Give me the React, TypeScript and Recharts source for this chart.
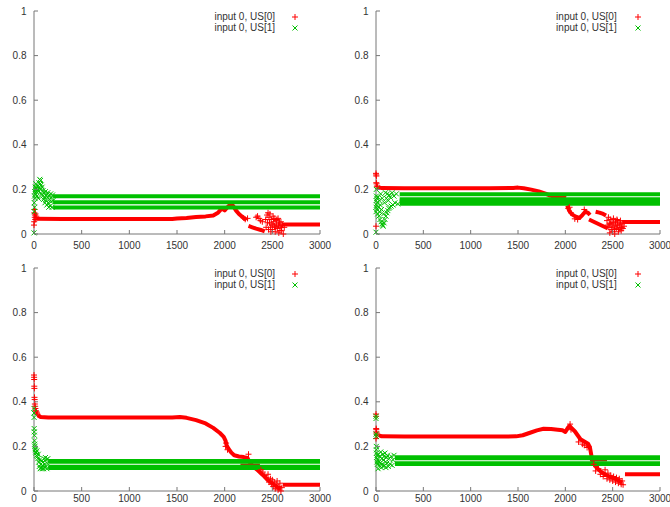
import React from 'react';
import { ComposedChart, Line, Scatter, XAxis, YAxis } from 'recharts';

type Pt = [number, number];

const xTicks = [0, 500, 1000, 1500, 2000, 2500, 3000];
const yTicks = [0, 0.2, 0.4, 0.6, 0.8, 1];
const seriesNames = ['input 0, US[0]', 'input 0, US[1]'];

// panel a (top left)
const aRedLine: Pt[] = [[25, 0.068], [300, 0.067], [800, 0.067], [1200, 0.067], [1450, 0.067], [1500, 0.069], [1600, 0.072], [1700, 0.076], [1800, 0.079], [1880, 0.083], [1930, 0.095], [1970, 0.115], [2000, 0.106], [2030, 0.12], [2060, 0.132], [2090, 0.125], [2120, 0.105], [2150, 0.09], [2190, 0.075], [2230, 0.063]];
const aRedLow: Pt[] = [[2250, 0.036], [2290, 0.03], [2330, 0.024], [2380, 0.018], [2420, 0.012]];
const aRedFlat: Pt[] = [[2600, 0.043], [3000, 0.043]];
const aRedDots: Pt[] = [[0, 0.04], [2, 0.055], [4, 0.095], [6, 0.11], [8, 0.075], [10, 0.085], [13, 0.065], [16, 0.09], [20, 0.072], [24, 0.08],
  [2200, 0.072], [2215, 0.066], [2240, 0.07], [2330, 0.075], [2345, 0.08], [2360, 0.07], [2375, 0.06], [2395, 0.055], [2430, 0.065], [2435, 0.03], [2445, 0.085], [2450, 0.05], [2455, 0.095], [2460, 0.02], [2465, 0.075], [2470, 0.05], [2475, 0.09], [2480, 0.03], [2485, 0.01], [2488, 0.065], [2495, 0.045], [2500, 0.02], [2505, 0.04], [2508, 0.08], [2515, 0.055], [2518, 0.07], [2522, 0.035], [2530, 0.01], [2535, 0.03], [2538, 0.06], [2545, 0.045], [2548, 0.065], [2552, 0.025], [2560, 0.07], [2565, 0.04], [2568, 0.005], [2575, 0.05], [2580, 0.015], [2582, 0.035], [2590, 0.055], [2595, 0.03], [2598, 0.015], [2605, 0.04], [2615, 0.0], [2625, 0.03]];
const aGreenLevels = [0.169, 0.142, 0.119];
const aGreenStart = 200;
const aGreenDots: Pt[] = [[0, 0.005], [2, 0.1], [3, 0.14], [5, 0.17], [6, 0.12], [8, 0.19], [10, 0.16], [12, 0.21], [15, 0.18], [18, 0.2], [20, 0.225], [25, 0.19], [28, 0.21], [32, 0.17], [35, 0.2], [40, 0.215], [45, 0.16], [48, 0.19], [52, 0.23], [56, 0.205], [60, 0.245], [64, 0.225], [68, 0.24], [72, 0.2], [76, 0.22], [80, 0.18], [85, 0.21], [90, 0.17], [95, 0.195], [100, 0.155], [105, 0.185], [110, 0.165], [115, 0.14], [120, 0.19], [125, 0.15], [130, 0.175], [135, 0.13], [140, 0.165], [145, 0.185], [150, 0.14], [155, 0.12], [160, 0.17], [165, 0.155], [170, 0.125], [175, 0.18], [180, 0.145], [185, 0.165], [190, 0.12], [195, 0.175], [200, 0.15]];

// panel b (top right)
const bRedLine: Pt[] = [[25, 0.21], [60, 0.206], [300, 0.205], [800, 0.205], [1200, 0.205], [1450, 0.206], [1500, 0.208], [1560, 0.205], [1640, 0.199], [1720, 0.191], [1790, 0.181], [1840, 0.172], [1880, 0.168], [1980, 0.168], [2000, 0.16]];
const bRedSeg1: Pt[] = [[2020, 0.128], [2040, 0.105], [2070, 0.088], [2110, 0.078], [2150, 0.072], [2180, 0.085], [2210, 0.1], [2240, 0.095], [2260, 0.085]];
const bRedSeg2: Pt[] = [[2250, 0.065], [2300, 0.055], [2350, 0.045], [2400, 0.035], [2450, 0.025]];
const bRedSeg3: Pt[] = [[2320, 0.1], [2360, 0.096], [2400, 0.09], [2430, 0.083]];
const bRedFlat: Pt[] = [[2600, 0.054], [3000, 0.054]];
const bRedDots: Pt[] = [[0, 0.272], [2, 0.265], [4, 0.26], [0, 0.035], [3, 0.23], [6, 0.225], [10, 0.215], [15, 0.212],
  [2030, 0.115], [2045, 0.12], [2060, 0.095], [2100, 0.068], [2130, 0.065], [2200, 0.11], [2440, 0.06], [2450, 0.04], [2455, 0.075], [2460, 0.03], [2465, 0.045], [2470, 0.005], [2475, 0.065], [2480, 0.045], [2485, 0.02], [2492, 0.05], [2495, 0.03], [2500, 0.01], [2505, 0.05], [2508, 0.07], [2515, 0.035], [2520, 0.02], [2522, 0.0], [2530, 0.055], [2535, 0.04], [2538, 0.025], [2545, 0.065], [2550, 0.06], [2552, 0.04], [2560, 0.01], [2565, 0.02], [2568, 0.05], [2575, 0.03], [2580, 0.045], [2582, 0.06], [2590, 0.015], [2595, 0.03], [2598, 0.045], [2608, 0.025], [2620, 0.035]];
const bGreenLevels = [0.136, 0.146, 0.156, 0.178];
const bGreenStart = 250;
const bGreenDots: Pt[] = [[0, 0.008], [0, 0.1], [1, 0.12], [2, 0.15], [3, 0.2], [4, 0.17], [6, 0.13], [8, 0.16], [10, 0.11], [14, 0.14], [18, 0.09], [22, 0.165], [26, 0.12], [30, 0.08], [34, 0.15], [38, 0.1], [42, 0.065], [46, 0.13], [50, 0.18], [54, 0.055], [58, 0.11], [62, 0.045], [66, 0.16], [70, 0.04], [75, 0.035], [80, 0.09], [85, 0.05], [90, 0.14], [95, 0.065], [100, 0.185], [105, 0.08], [110, 0.16], [115, 0.095], [120, 0.18], [125, 0.105], [130, 0.15], [135, 0.115], [140, 0.175], [145, 0.12], [150, 0.165], [160, 0.125], [170, 0.185], [180, 0.13], [190, 0.17], [200, 0.14], [215, 0.18], [230, 0.135]];

// panel c (bottom left)
const cRedLine: Pt[] = [[40, 0.34], [70, 0.332], [150, 0.33], [600, 0.33], [1000, 0.33], [1450, 0.33], [1530, 0.332], [1600, 0.328], [1700, 0.318], [1800, 0.303], [1880, 0.283], [1950, 0.26], [1990, 0.243], [2010, 0.225], [2020, 0.205], [2040, 0.19], [2070, 0.172], [2100, 0.16], [2150, 0.155], [2200, 0.152], [2240, 0.148], [2260, 0.13], [2300, 0.11], [2350, 0.092], [2400, 0.072], [2450, 0.05], [2500, 0.035], [2550, 0.018], [2590, 0.008]];
const cRedFlat: Pt[] = [[2610, 0.028], [3000, 0.028]];
const cRedGap: Pt[] = [[2165, 0.12], [2370, 0.12]];
const cRedDots: Pt[] = [[0, 0.52], [1, 0.51], [2, 0.5], [3, 0.47], [4, 0.46], [5, 0.42], [7, 0.41], [9, 0.39], [12, 0.38], [15, 0.37], [20, 0.36], [25, 0.355], [30, 0.35], [35, 0.345],
  [2010, 0.2], [2015, 0.215], [2030, 0.185], [2250, 0.165], [2380, 0.095], [2400, 0.085], [2420, 0.07], [2440, 0.06], [2455, 0.075], [2465, 0.04], [2480, 0.055], [2490, 0.03], [2500, 0.05], [2510, 0.02], [2520, 0.04], [2530, 0.01], [2540, 0.03], [2550, 0.045], [2560, 0.005], [2570, 0.02], [2580, 0.035], [2590, 0.0], [2600, 0.015]];
const cGreenLevels = [0.103, 0.109, 0.131, 0.135];
const cGreenStart = 150;
const cGreenDots: Pt[] = [[0, 0.37], [0, 0.35], [1, 0.33], [2, 0.28], [3, 0.265], [4, 0.25], [5, 0.225], [7, 0.21], [9, 0.2], [12, 0.19], [15, 0.185], [18, 0.175], [22, 0.17], [26, 0.16], [30, 0.18], [35, 0.155], [40, 0.145], [45, 0.165], [50, 0.13], [55, 0.11], [60, 0.14], [65, 0.1], [70, 0.12], [75, 0.105], [80, 0.135], [85, 0.1], [90, 0.115], [95, 0.13], [100, 0.1], [105, 0.145], [110, 0.12], [115, 0.105], [120, 0.15], [125, 0.11], [130, 0.14], [135, 0.1], [140, 0.125], [145, 0.145]];

// panel d (bottom right)
const dRedLine: Pt[] = [[30, 0.25], [60, 0.245], [300, 0.244], [800, 0.244], [1200, 0.244], [1480, 0.245], [1550, 0.25], [1620, 0.26], [1700, 0.272], [1770, 0.279], [1850, 0.278], [1920, 0.275], [1970, 0.272], [2000, 0.265], [2030, 0.285], [2045, 0.292], [2070, 0.28], [2100, 0.268], [2130, 0.25], [2160, 0.232], [2200, 0.222], [2240, 0.212], [2260, 0.195], [2275, 0.16], [2290, 0.13], [2330, 0.105], [2380, 0.085], [2430, 0.072], [2480, 0.062], [2540, 0.052], [2600, 0.038]];
const dRedFlat: Pt[] = [[2630, 0.075], [3000, 0.075]];
const dRedGap: Pt[] = [[2260, 0.136], [2440, 0.136]];
const dRedDots: Pt[] = [[0, 0.345], [1, 0.335], [2, 0.28], [3, 0.275], [4, 0.265], [6, 0.26], [8, 0.255], [10, 0.25], [0, 0.235],
  [2050, 0.3], [2060, 0.275], [2140, 0.22], [2180, 0.21], [2200, 0.205], [2230, 0.195], [2245, 0.2], [2300, 0.12], [2320, 0.09], [2350, 0.1], [2370, 0.075], [2400, 0.065], [2420, 0.095], [2440, 0.055], [2450, 0.08], [2470, 0.05], [2480, 0.07], [2500, 0.045], [2510, 0.065], [2530, 0.04], [2540, 0.06], [2560, 0.035], [2570, 0.055], [2590, 0.03], [2600, 0.045], [2610, 0.028]];
const dGreenLevels = [0.121, 0.125, 0.147, 0.151];
const dGreenStart = 200;
const dGreenDots: Pt[] = [[0, 0.335], [0, 0.325], [1, 0.255], [2, 0.245], [3, 0.2], [4, 0.185], [5, 0.17], [7, 0.15], [9, 0.13], [12, 0.16], [15, 0.12], [18, 0.14], [22, 0.1], [26, 0.165], [30, 0.13], [35, 0.115], [40, 0.155], [45, 0.125], [50, 0.175], [55, 0.105], [60, 0.145], [65, 0.12], [70, 0.165], [75, 0.11], [80, 0.14], [85, 0.155], [90, 0.115], [95, 0.17], [100, 0.13], [105, 0.105], [110, 0.15], [115, 0.125], [120, 0.16], [130, 0.11], [140, 0.145], [150, 0.12], [160, 0.155], [170, 0.115], [180, 0.14], [190, 0.16]];

const RED = '#ff0000';
const GREEN = '#00c000';
const BORDER = '#777';
const TEXT = '#333';
const FONT = '"Liberation Sans", Arial, sans-serif';
const X_MAX = xTicks[xTicks.length - 1];

const toXY = (rows: Pt[]) => rows.map(([x, y]) => ({ x, y }));
const bandRows = (level: number, start: number) => toXY([[start, level], [X_MAX, level]]);

const Plus = (p: any) => (
  <path d={`M${p.cx - 3},${p.cy}h6M${p.cx},${p.cy - 3}v6`} stroke={RED} strokeWidth={1} fill="none" />
);
const Cross = (p: any) => (
  <path d={`M${p.cx - 2.5},${p.cy - 2.5}l5,5M${p.cx - 2.5},${p.cy + 2.5}l5,-5`} stroke={GREEN} strokeWidth={1} fill="none" />
);

const leftTick = (p: any) => (
  <g>
    <line x1={p.x} x2={p.x + 4} y1={p.y} y2={p.y} stroke={BORDER} />
    <text x={p.x - 7.5} y={p.y + 3.6} textAnchor="end" fontSize={10} fontFamily={FONT} fill={TEXT}>{p.payload.value}</text>
  </g>
);
const rightTick = (p: any) => <line x1={p.x} x2={p.x - 4} y1={p.y} y2={p.y} stroke={BORDER} />;
const topTick = (p: any) => <line x1={p.x} x2={p.x} y1={p.y} y2={p.y + 4} stroke={BORDER} />;
const bottomTick = (base: number) => (p: any) => (
  <g>
    <line x1={p.x} x2={p.x} y1={p.y} y2={p.y - 4} stroke={BORDER} />
    <text x={p.x} y={p.y + base} textAnchor="middle" fontSize={10} fontFamily={FONT} fill={TEXT}>{p.payload.value}</text>
  </g>
);

const panels = [
  { left: 0, top: 0, width: 335, height: 253, plotLeft: 34, plotTop: 11, plotRight: 320, plotBottom: 234, labelBase: 14.8, legendRight: 275, markerX: 295, rows: [16.5, 28],
    redLines: [aRedLine, aRedLow, aRedFlat], redThin: [] as Pt[][], redDots: aRedDots, greenLevels: aGreenLevels, greenStart: aGreenStart, greenDots: aGreenDots },
  { left: 335, top: 0, width: 335, height: 253, plotLeft: 41, plotTop: 11, plotRight: 325, plotBottom: 234, labelBase: 14.8, legendRight: 281.7, markerX: 302.7, rows: [17, 28],
    redLines: [bRedLine, bRedSeg1, bRedSeg2, bRedSeg3, bRedFlat], redThin: [] as Pt[][], redDots: bRedDots, greenLevels: bGreenLevels, greenStart: bGreenStart, greenDots: bGreenDots },
  { left: 0, top: 253, width: 335, height: 254, plotLeft: 34, plotTop: 15, plotRight: 320, plotBottom: 238, labelBase: 10.6, legendRight: 275, markerX: 295, rows: [21, 31.7],
    redLines: [cRedLine, cRedFlat], redThin: [cRedGap], redDots: cRedDots, greenLevels: cGreenLevels, greenStart: cGreenStart, greenDots: cGreenDots },
  { left: 335, top: 253, width: 335, height: 254, plotLeft: 41, plotTop: 15, plotRight: 325, plotBottom: 238, labelBase: 10.6, legendRight: 281.7, markerX: 302.7, rows: [20.7, 31.7],
    redLines: [dRedLine, dRedFlat], redThin: [dRedGap], redDots: dRedDots, greenLevels: dGreenLevels, greenStart: dGreenStart, greenDots: dGreenDots },
];

function Panel({ p }: { p: (typeof panels)[number] }) {
  return (
    <div style={{ position: 'absolute', left: p.left, top: p.top, width: p.width, height: p.height }}>
      <ComposedChart width={p.width} height={p.height} margin={{ top: p.plotTop, right: p.width - p.plotRight, left: 0, bottom: 0 }}>
        <XAxis type="number" dataKey="x" domain={[0, X_MAX]} ticks={xTicks} interval={0} height={p.height - p.plotBottom}
          tickSize={0} tickMargin={0} tick={bottomTick(p.labelBase)} axisLine={{ stroke: BORDER }} tickLine={false} />
        <XAxis xAxisId="t" orientation="top" type="number" dataKey="x" domain={[0, X_MAX]} ticks={xTicks} interval={0} height={0}
          tickSize={0} tickMargin={0} tick={topTick} axisLine={{ stroke: BORDER }} tickLine={false} />
        <YAxis type="number" domain={[0, 1]} ticks={yTicks} interval={0} width={p.plotLeft}
          tickSize={0} tickMargin={0} tick={leftTick} axisLine={{ stroke: BORDER }} tickLine={false} />
        <YAxis yAxisId="r" orientation="right" type="number" domain={[0, 1]} ticks={yTicks} interval={0} width={0}
          tickSize={0} tickMargin={0} tick={rightTick} axisLine={{ stroke: BORDER }} tickLine={false} />
        {p.redLines.map((rows, i) => (
          <Line key={'r' + i} data={toXY(rows)} dataKey="y" type="linear" stroke={RED} strokeWidth={4} strokeLinejoin="round" dot={false} isAnimationActive={false} />
        ))}
        {p.redThin.map((rows, i) => (
          <Line key={'rt' + i} data={toXY(rows)} dataKey="y" type="linear" stroke="#b03010" strokeWidth={1.5} dot={false} isAnimationActive={false} />
        ))}
        <Scatter data={toXY(p.redDots)} dataKey="y" shape={Plus} isAnimationActive={false} />
        {p.greenLevels.map((lvl, i) => (
          <Line key={'g' + i} data={bandRows(lvl, p.greenStart)} dataKey="y" type="linear" stroke={GREEN} strokeWidth={4} dot={false} isAnimationActive={false} />
        ))}
        <Scatter data={toXY(p.greenDots)} dataKey="y" shape={Cross} isAnimationActive={false} />
      </ComposedChart>
      {seriesNames.map((name, i) => (
        <React.Fragment key={name}>
          <div style={{ position: 'absolute', right: p.width - p.legendRight, top: p.rows[i] - 6, lineHeight: '12px', fontSize: 10, fontFamily: FONT, color: TEXT, whiteSpace: 'nowrap' }}>
            {name}
          </div>
          <svg width={8} height={8} style={{ position: 'absolute', left: p.markerX - 4, top: p.rows[i] - 4 }}>
            {i === 0
              ? <path d="M1,4h6M4,1v6" stroke={RED} strokeWidth={1} fill="none" />
              : <path d="M1.5,1.5l5,5M1.5,6.5l5,-5" stroke={GREEN} strokeWidth={1} fill="none" />}
          </svg>
        </React.Fragment>
      ))}
    </div>
  );
}

export default function App() {
  return (
    <div style={{ position: 'absolute', left: 0, top: 0, width: 670, height: 507, background: '#fff', overflow: 'hidden' }}>
      {panels.map((p, i) => <Panel key={i} p={p} />)}
    </div>
  );
}
